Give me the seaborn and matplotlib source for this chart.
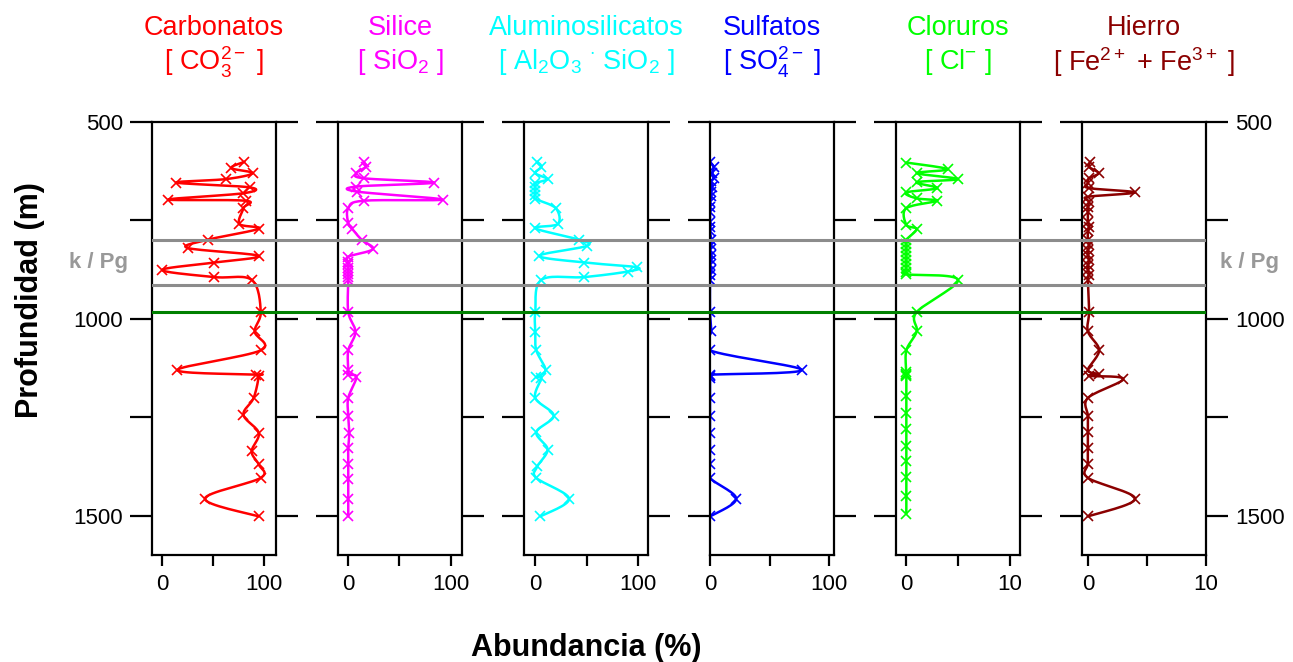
import numpy as np
import pandas as pd
import matplotlib
matplotlib.use("Agg")
import matplotlib.pyplot as plt
import seaborn as sns

sns.set_theme(style="white")
plt.rcParams['font.family'] = ['Liberation Sans', 'DejaVu Sans']
plt.rcParams['mathtext.fontset'] = 'custom'
plt.rcParams['mathtext.rm'] = 'Liberation Sans'
plt.rcParams['mathtext.it'] = 'Liberation Sans:italic'
plt.rcParams['mathtext.bf'] = 'Liberation Sans:bold'
plt.rcParams['text.color'] = 'black'
plt.rcParams['axes.labelcolor'] = 'black'
plt.rcParams['xtick.color'] = 'black'
plt.rcParams['ytick.color'] = 'black'

# ---------------- data ----------------
depth_carb = [601, 617, 630, 645, 654, 666, 681, 697, 700, 719, 759, 771, 799, 820, 840, 857, 876, 894, 901,
              982, 1032, 1080, 1130, 1142, 1145, 1201, 1244, 1290, 1337, 1370, 1404, 1457, 1502]
carb = [81, 68, 89, 63, 14, 86, 80, 6, 82, 80, 76, 95, 45, 25, 95, 51, 0, 51, 88,
        97, 91, 97, 15, 92, 95, 90, 80, 95, 88, 95, 97, 42, 95]

depth_sil = [601, 614, 630, 643, 654, 664, 677, 697, 700, 719, 757, 772, 799, 823, 842, 855, 862, 870, 878, 886,
             894, 901, 983, 1033, 1080, 1130, 1142, 1148, 1201, 1246, 1290, 1329, 1368, 1407, 1457, 1502]
sil = [15, 17, 8, 15, 84, 8, 9, 92, 15, 0, 0, 4, 13, 24, 0, 0, 0, 0, 0, 0,
       0, 0, 0, 7, 0, 0, 0, 8, 0, 0, 1, 0, 0, 0, 0, 0]

depth_al = [601, 614, 630, 645, 655, 665, 675, 685, 695, 719, 759, 770, 799, 815, 840, 857, 869, 880, 894, 901,
            982, 1033, 1080, 1130, 1148, 1150, 1201, 1246, 1288, 1332, 1375, 1404, 1457, 1502]
al = [2, 6, 0, 12, 0, 0, 0, 0, 0, 20, 22, 0, 43, 50, 4, 48, 99, 90, 48, 6,
      0, 0, 1, 10, 1, 6, 0, 18, 1, 12, 2, 1, 33, 5]

depth_sul = [601, 614, 630, 643, 651, 664, 677, 689, 702, 715, 728, 753, 766, 778, 799, 812, 825, 838, 850, 863,
             876, 889, 901, 982, 1032, 1080, 1130, 1142, 1146, 1150, 1201, 1247, 1290, 1332, 1370, 1404, 1457, 1502]
sul = [0, 3, 2, 3, 1, 2, 1, 1, 0, 0, 0, 0, 0, 0, 1, 1, 0, 1, 1, 0,
       1, 0, 0, 0, 1, 0, 77, 0, 0, 0, 0, 0, 0, 0, 0, 0, 22, 0]

depth_cl = [603, 620, 630, 645, 653, 668, 679, 694, 700, 719, 761, 772, 799, 810, 820, 830, 840, 850, 860, 870,
            880, 887, 901, 983, 1032, 1080, 1136, 1140, 1143, 1146, 1196, 1239, 1281, 1322, 1362, 1402, 1450, 1495]
cl = [0, 4, 1, 5, 1, 3, 0, 1, 3, 0, 0, 1, 0, 0, 0, 0, 0, 0, 0, 0,
      0, 0, 5, 1, 1, 0, 0, 0, 0, 0, 0, 0, 0, 0, 0, 0, 0, 0]

depth_fe = [601, 614, 630, 643, 656, 668, 679, 690, 702, 715, 728, 753, 766, 778, 799, 812, 825, 838, 850, 863,
            876, 889, 901, 982, 1032, 1080, 1130, 1140, 1145, 1153, 1201, 1247, 1288, 1328, 1368, 1404, 1457, 1502]
fe = [0.2, 0.1, 0.9, 0.1, 0, 0.1, 4.0, 0, 0.1, 0, 0, 0, 0.1, 0, 0, 0.1, 0, 0, 0.1, 0,
      0, 0.1, 0, 0.1, 0, 0.95, 0, 0.9, 0.1, 3.0, 0, 0, 0, 0, 0, 0, 4.0, 0]

names = ["Carbonatos", "Silice", "Aluminosilicatos", "Sulfatos", "Cloruros", "Hierro"]
formulas = [r"[ CO$_3^{2-}$ ]", r"[ SiO$_2$ ]", r"[ Al$_2$O$_3$ $^{\cdot}$ SiO$_2$ ]",
            r"[ SO$_4^{2-}$ ]", r"[ Cl$^{-}$ ]", r"[ Fe$^{2+}$ + Fe$^{3+}$ ]"]
colors = ["#FF0000", "#FF00FF", "#00FFFF", "#0000FF", "#00FF00", "#8B0000"]
depths = [depth_carb, depth_sil, depth_al, depth_sul, depth_cl, depth_fe]
values = [carb, sil, al, sul, cl, fe]
xlims = [(-10, 112), (-10, 111), (-11, 110), (0, 104), (-1, 11), (-0.5, 10)]
xticks_major = [[0, 100], [0, 100], [0, 100], [0, 100], [0, 10], [0, 10]]
xticks_minor = [[50], [50], [50], [50], [5], [5]]
kpg_top, kpg_bottom, green_depth = 800, 914, 983


def smooth_curve(x, y, n=16):
    """Catmull-Rom spline through the measured points (display only)."""
    P = np.column_stack([x, y]).astype(float)
    P = np.vstack([P[0], P, P[-1]])
    out = []
    t = np.linspace(0, 1, n, endpoint=False)[:, None]
    for i in range(1, len(P) - 2):
        p0, p1, p2, p3 = P[i - 1], P[i], P[i + 1], P[i + 2]
        seg = 0.5 * ((2 * p1) + (-p0 + p2) * t + (2 * p0 - 5 * p1 + 4 * p2 - p3) * t ** 2
                     + (-p0 + 3 * p1 - 3 * p2 + p3) * t ** 3)
        out.append(seg)
    out.append(P[-2][None, :])
    out = np.vstack(out)
    return out[:, 0], out[:, 1]


W, H = 1293, 662
fig = plt.figure(figsize=(W / 100, H / 100), dpi=100)
lefts = [152, 338, 524, 710, 896, 1082]
pw = 124
top_px, bot_px = 122, 555
axes = []
for i in range(6):
    ax = fig.add_axes([lefts[i] / W, 1 - bot_px / H, pw / W, (bot_px - top_px) / H])
    axes.append(ax)
    xs, ys = smooth_curve(values[i], depths[i])
    sm = pd.DataFrame({"v": xs, "d": ys})
    pts = pd.DataFrame({"v": values[i], "d": depths[i]})
    sns.lineplot(data=sm, x="v", y="d", sort=False, estimator=None, orient="y",
                 color=colors[i], lw=1.8, ax=ax)
    ax.plot(pts["v"], pts["d"], ls="none", marker="x", ms=7, mew=1.2, color=colors[i])
    ax.set_xlim(*xlims[i])
    ax.set_ylim(1600, 500)
    ax.set_xlabel("")
    ax.set_ylabel("")
    for s in ax.spines.values():
        s.set_linewidth(1.6)
        s.set_color("black")
    ax.set_yticks([500, 1000, 1500])
    ax.set_yticks([750, 1250], minor=True)
    ax.set_xticks(xticks_major[i])
    ax.set_xticks(xticks_minor[i], minor=True)
    ax.tick_params(axis="y", which="both", direction="out", length=16, width=1.6,
                   left=True, right=True, labelleft=(i == 0), labelright=(i == 5),
                   labelsize=16, color="black", labelcolor="black", pad=5)
    ax.tick_params(axis="x", which="both", direction="out", length=8, width=1.6,
                   bottom=True, top=False, labelsize=16, color="black", labelcolor="black", pad=6)
    ax.grid(False)
    cx = (lefts[i] + pw / 2) / W
    fig.text(cx, 1 - 28 / H, names[i], color=colors[i], fontsize=19.5, ha="center", va="center")
    fig.text(cx, 1 - 62 / H, formulas[i], color=colors[i], fontsize=19.5, ha="center", va="center")

# overlay for the horizontal marker lines across all panels
ov = fig.add_axes([lefts[0] / W, 1 - bot_px / H, (lefts[5] + pw - lefts[0]) / W, (bot_px - top_px) / H])
ov.set_ylim(1600, 500)
ov.patch.set_alpha(0)
ov.axis("off")
ov.axhline(kpg_top, color="#8c8c8c", lw=2.2)
ov.axhline(kpg_bottom, color="#8c8c8c", lw=2.2)
ov.axhline(green_depth, color="#008000", lw=2.2)

ymid = 1 - (122 + ((kpg_top + kpg_bottom) / 2 - 500) * 0.394) / H
fig.text(98 / W, ymid, "k / Pg", color="#999999", fontsize=16, fontweight="bold", ha="center", va="center")
fig.text(1250 / W, ymid, "k / Pg", color="#999999", fontsize=16, fontweight="bold", ha="center", va="center")

fig.text(30 / W, 1 - 300 / H, "Profundidad (m)", rotation=90, fontsize=22, fontweight="bold",
         ha="center", va="center", color="black")
fig.text(586 / W, 1 - 648 / H, "Abundancia (%)", fontsize=22, fontweight="bold", ha="center", va="center",
         color="black")

fig.savefig("out.png", dpi=100, facecolor="white")
